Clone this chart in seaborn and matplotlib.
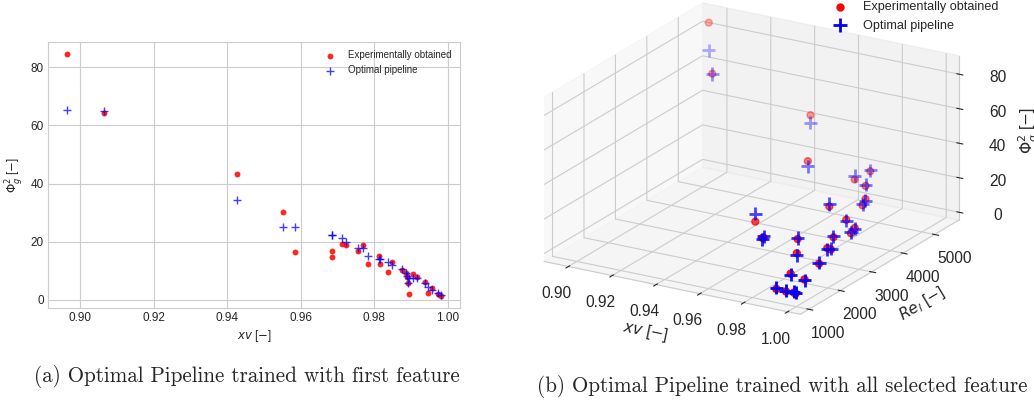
import numpy as np
import pandas as pd
import matplotlib
matplotlib.use("Agg")
import matplotlib.pyplot as plt
import seaborn as sns

# ---------------- data ----------------
xv = [0.8963, 0.9065, 0.9427, 0.9551, 0.9584, 0.9686, 0.9686, 0.9714, 0.9724,
      0.9757, 0.9771, 0.9784, 0.9814, 0.9815, 0.9838, 0.9848, 0.9876, 0.9887,
      0.9891, 0.9895, 0.9893, 0.9905, 0.9917, 0.9939, 0.9946, 0.9959, 0.9975,
      0.9983]
phi_exp = [84.6, 64.2, 43.2, 30.1, 16.5, 17.0, 14.8, 19.3, 18.8, 16.8, 18.8,
           12.2, 15.0, 12.5, 9.7, 13.1, 10.2, 9.4, 8.0, 1.9, 5.7, 9.0, 8.0,
           6.3, 2.3, 4.2, 1.9, 1.5]
phi_pred_first = [65.3, 64.9, 34.4, 25.2, 25.2, 22.4, 22.4, 21.4, 19.9, 17.9,
                  17.9, 15.1, 14.2, 14.2, 13.1, 11.9, 10.8, 9.4, 8.3, 7.4, 5.7,
                  7.7, 7.7, 6.0, 4.6, 3.4, 2.5, 1.7]
re_l = [5450, 4850, 5450, 4500, 2600, 5050, 2150, 5350, 1850, 4900, 3650,
        2550, 4500, 4400, 2150, 3650, 3050, 3650, 3500, 1100, 2850, 2650,
        1400, 2150, 1050, 1550, 1100, 1100]
phi_pred_all = [68.7, 64.0, 38.9, 27.0, 21.0, 19.2, 15.5, 19.9, 18.0, 17.5,
                20.2, 12.8, 14.0, 13.0, 8.4, 12.5, 10.8, 9.0, 8.6, 2.6, 6.2,
                8.4, 7.5, 6.8, 2.8, 3.8, 2.3, 1.9]

lbl_exp = "Experimentally obtained"
lbl_opt = "Optimal pipeline"
caption_a = "(a) Optimal Pipeline trained with first feature"
caption_b = "(b) Optimal Pipeline trained with all selected feature"

# ---------------- style ----------------
sns.set_style("whitegrid")
plt.rcParams["font.family"] = ["Liberation Sans", "DejaVu Sans"]
plt.rcParams["mathtext.fontset"] = "dejavusans"
plt.rcParams["axes3d.automargin"] = True

W, H = 1034, 405
fig = plt.figure(figsize=(W / 100, H / 100), dpi=100)

# ---------------- left: 2D ----------------
ax1 = fig.add_axes([48 / W, (H - 307.7) / H, 412 / W, 266 / H])
df = pd.DataFrame({"xv": xv, "exp": phi_exp, "pred": phi_pred_first})
sns.scatterplot(data=df, x="xv", y="exp", color="red", alpha=0.85, s=18,
                linewidth=0, label=lbl_exp, ax=ax1)
sns.scatterplot(data=df, x="xv", y="pred", color="blue", marker="+", alpha=0.75,
                s=40, linewidth=1.0, label=lbl_opt, ax=ax1)
ax1.tick_params(labelsize=8.5, length=0, pad=3)
ax1.set_xlabel(r"$xv$ [$-$]", fontsize=8.5, labelpad=3)
ax1.set_ylabel(r"$\Phi_g^2$ [$-$]", fontsize=8.5, labelpad=4)
ax1.legend(loc="upper right", fontsize=7, frameon=False)

# ---------------- right: 3D ----------------
S = 400
ax2 = fig.add_axes([(746 - S / 2) / W, (H - 164 - S / 2) / H, S / W, S / H],
                   projection="3d")
ax2.scatter(xv, re_l, phi_exp, c="red", s=25, depthshade=True, label=lbl_exp)
ax2.scatter(xv, re_l, phi_pred_all, c="blue", marker="+", s=90, linewidths=2,
            depthshade=True, label=lbl_opt)
ax2.set_proj_type("ortho")
ax2.view_init(elev=20.5, azim=-59.5)
ax2.set_box_aspect((4, 4.2, 2.36), zoom=1.13)
ax2.set_xlabel(r"$xv$ [$-$]", fontsize=11.2)
ax2.set_ylabel(r"$Re_l$ [$-$]", fontsize=11.2)
ax2.set_zlabel(r"$\Phi_g^2$ [$-$]", fontsize=11.2, labelpad=4.5)
ax2.tick_params(labelsize=11.2)
ax2.zaxis.set_tick_params(pad=6)
ax2.legend(loc="upper left", bbox_to_anchor=(816 / W, 1.025),
           bbox_transform=fig.transFigure, fontsize=9.1, frameon=False)

# ---------------- captions ----------------
fig.text(34 / W, 1 - 377 / H, caption_a, family="cmr10", fontsize=15.2,
         ha="left", va="center")
fig.text(537 / W, 1 - 386 / H, caption_b, family="cmr10", fontsize=15.2,
         ha="left", va="center")

fig.savefig("out.png", dpi=100)
